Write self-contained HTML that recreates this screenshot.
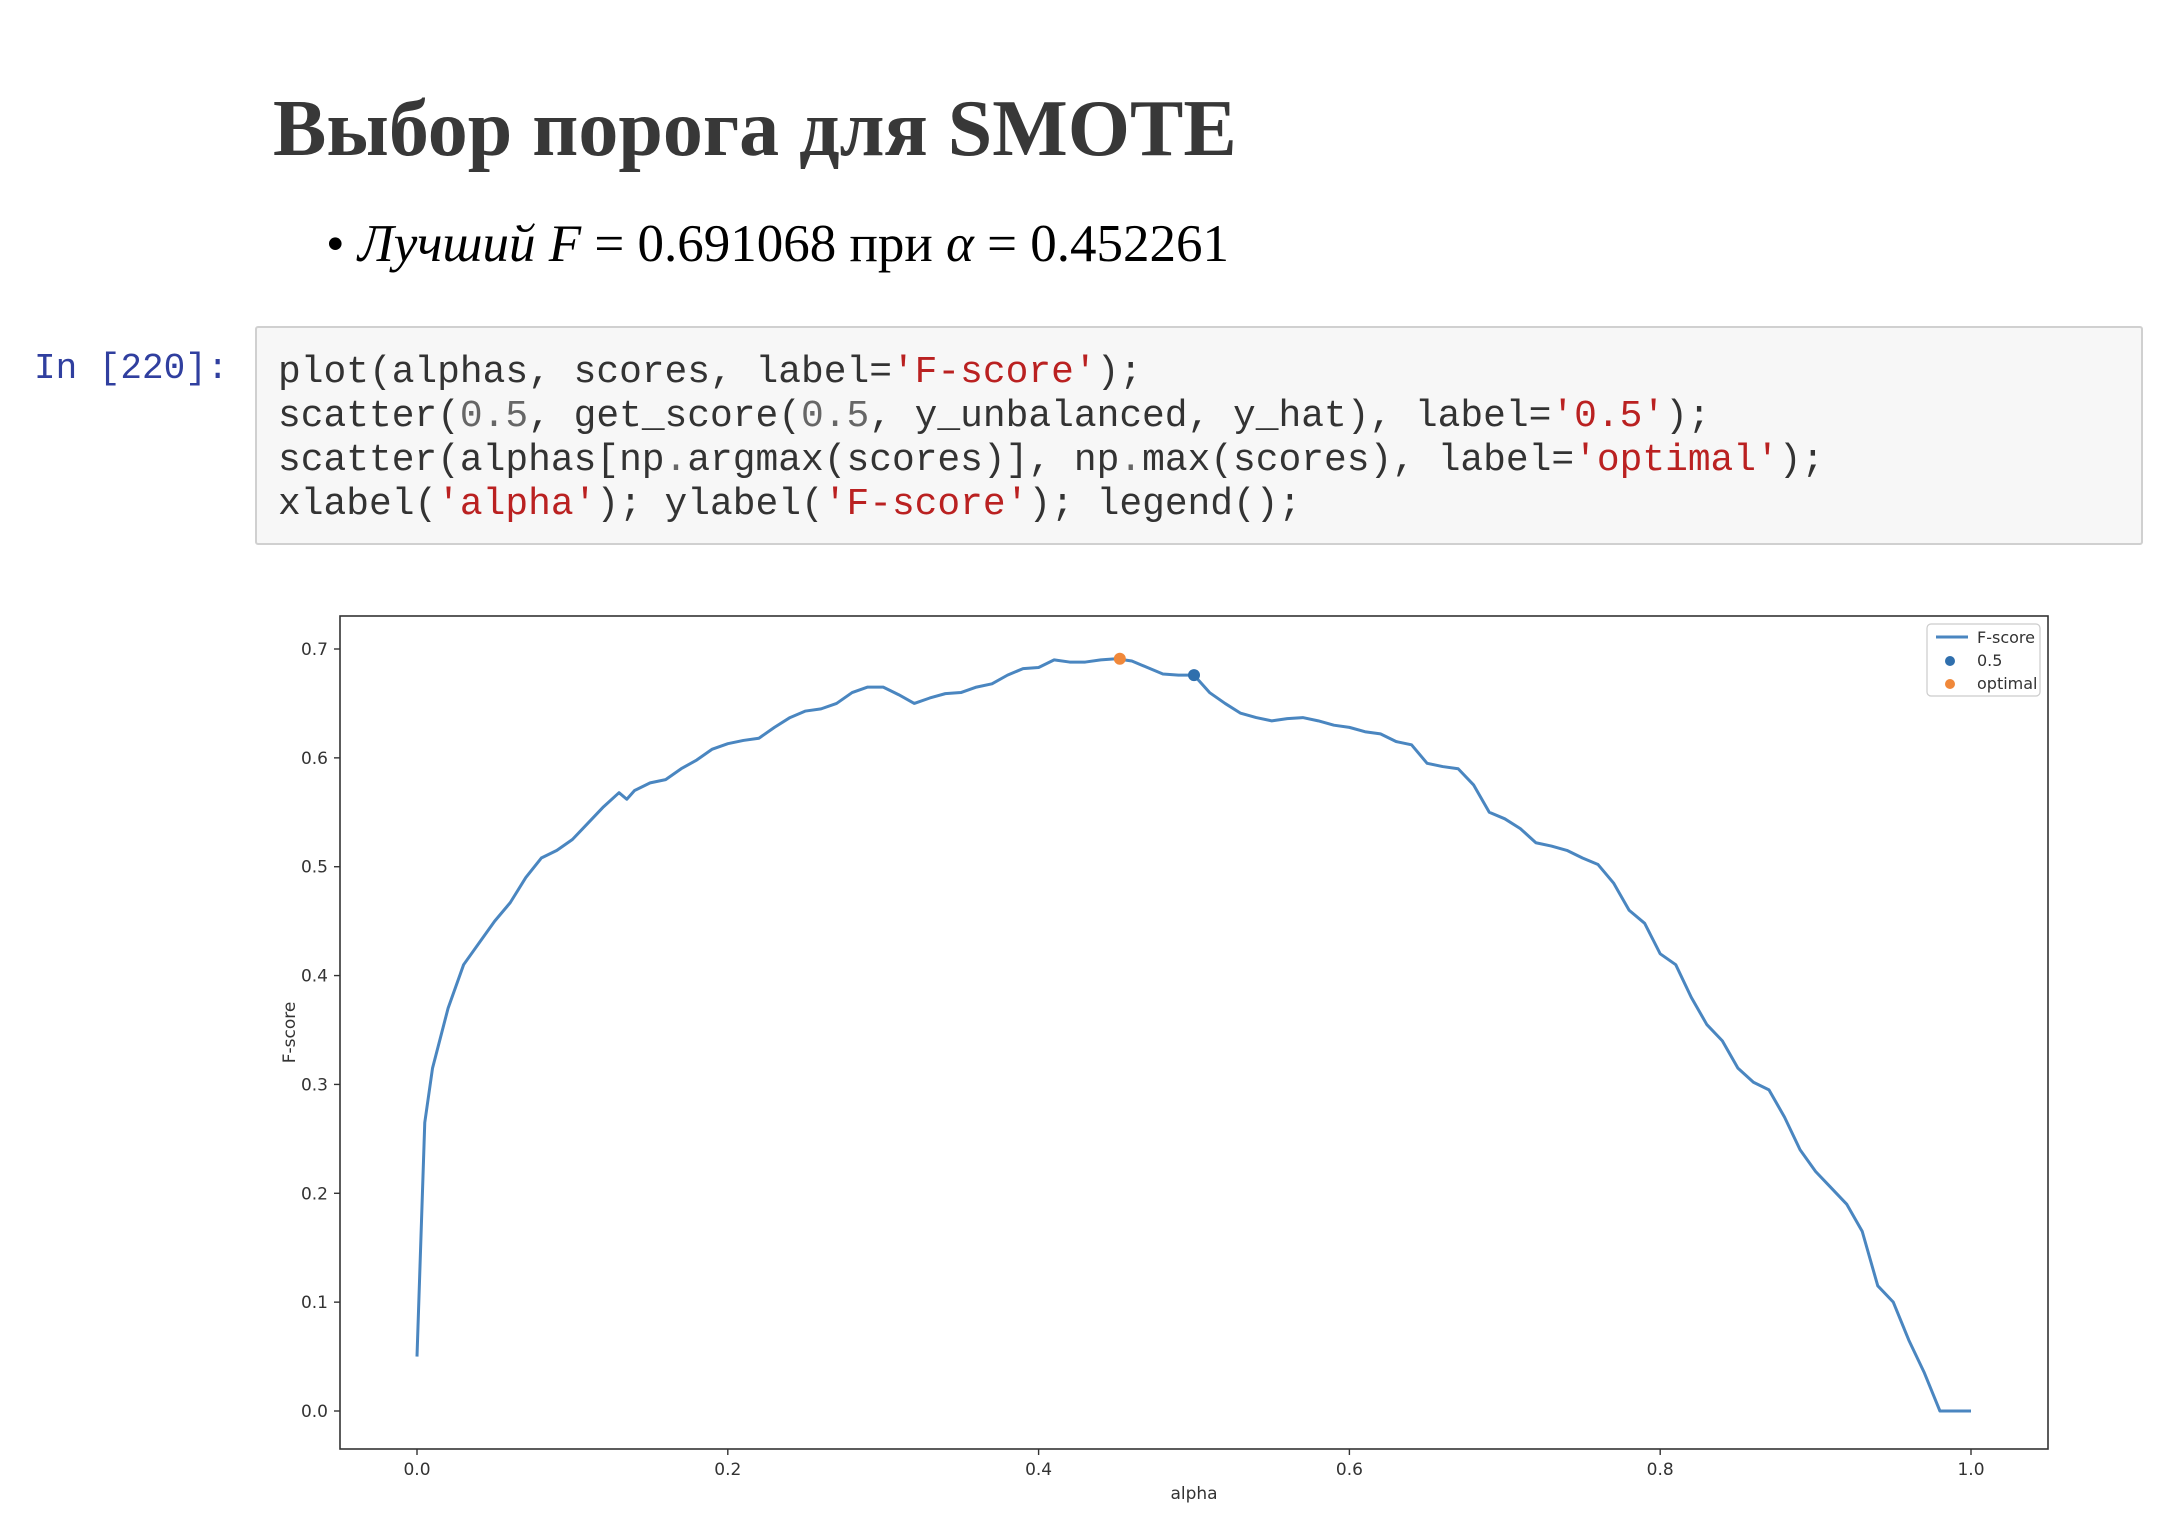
<!DOCTYPE html>
<html><head><meta charset="utf-8">
<style>
body{margin:0;width:2160px;height:1536px;background:#fff;position:relative;overflow:hidden;font-family:"Liberation Sans",sans-serif}
#title{position:absolute;left:273px;top:84px;font:bold 80px "Liberation Serif","Noto Serif CJK SC",serif;color:#383838;margin:0;white-space:nowrap}
#bullet{position:absolute;left:326px;top:214px;font:53px "Liberation Serif","Noto Serif CJK SC",serif;color:#000;white-space:nowrap}
#prompt{position:absolute;left:34px;top:348px;font:36px "Liberation Mono",monospace;color:#303F9F}
#code{position:absolute;left:255px;top:326px;width:1888px;height:219px;background:#f7f7f7;border:2px solid #d0d0d0;border-radius:3px;box-sizing:border-box}
#code pre{margin:0;position:absolute;left:21px;top:23px;font:37.9px/44px "Liberation Mono",monospace;color:#333}
.s{color:#BA2121}.n{color:#666}
</style></head><body>
<h1 id="title">Выбор порога для SMOTE</h1>
<div id="bullet">• <i>Лучший F</i> = 0.691068 при <i>α</i> = 0.452261</div>
<div id="prompt">In [220]:</div>
<div id="code"><pre>plot(alphas, scores, label=<span class="s">'F-score'</span>);
scatter(<span class="n">0.5</span>, get_score(<span class="n">0.5</span>, y_unbalanced, y_hat), label=<span class="s">'0.5'</span>);
scatter(alphas[np<span class="n">.</span>argmax(scores)], np<span class="n">.</span>max(scores), label=<span class="s">'optimal'</span>);
xlabel(<span class="s">'alpha'</span>); ylabel(<span class="s">'F-score'</span>); legend();</pre></div>
<svg id="chart" width="2160" height="1536" style="position:absolute;left:0;top:0"></svg>
<script>
const alphas=[0,0.005,0.01,0.02,0.03,0.04,0.05,0.06,0.07,0.08,0.09,0.10,0.11,0.12,0.13,0.135,0.14,0.15,0.16,0.17,0.18,0.19,0.20,0.21,0.22,0.23,0.24,0.25,0.26,0.27,0.28,0.29,0.30,0.31,0.32,0.33,0.34,0.35,0.36,0.37,0.38,0.39,0.40,0.41,0.42,0.43,0.44,0.45,0.46,0.47,0.48,0.49,0.50,0.51,0.52,0.53,0.54,0.55,0.56,0.57,0.58,0.59,0.60,0.61,0.62,0.63,0.64,0.65,0.66,0.67,0.68,0.69,0.70,0.71,0.72,0.73,0.74,0.75,0.76,0.77,0.78,0.79,0.80,0.81,0.82,0.83,0.84,0.85,0.86,0.87,0.88,0.89,0.90,0.91,0.92,0.93,0.94,0.95,0.96,0.97,0.98,0.99,1.0];
const scores=[0.05,0.265,0.315,0.37,0.41,0.43,0.45,0.467,0.49,0.508,0.515,0.525,0.54,0.555,0.568,0.562,0.57,0.577,0.58,0.59,0.598,0.608,0.613,0.616,0.618,0.628,0.637,0.643,0.645,0.65,0.66,0.665,0.665,0.658,0.65,0.655,0.659,0.66,0.665,0.668,0.676,0.682,0.683,0.69,0.688,0.688,0.69,0.691,0.689,0.683,0.677,0.676,0.676,0.66,0.65,0.641,0.637,0.634,0.636,0.637,0.634,0.63,0.628,0.624,0.622,0.615,0.612,0.595,0.592,0.59,0.575,0.55,0.544,0.535,0.522,0.519,0.515,0.508,0.502,0.485,0.46,0.448,0.42,0.41,0.38,0.355,0.34,0.315,0.302,0.295,0.27,0.24,0.22,0.205,0.19,0.165,0.115,0.1,0.065,0.035,0,0,0];
const pointHalf=[0.5,0.676];
const pointOpt=[0.452261,0.691068];
const xTicks=[0,0.2,0.4,0.6,0.8,1.0];
const xTickLabels=["0.0","0.2","0.4","0.6","0.8","1.0"];
const yTicks=[0,0.1,0.2,0.3,0.4,0.5,0.6,0.7];
const yTickLabels=["0.0","0.1","0.2","0.3","0.4","0.5","0.6","0.7"];
const L=340,R=2048,T=616,B=1449;
const X=v=>417+v*(1971-417);
const Y=v=>1411-v*(1411-649)/0.7;
const svg=document.getElementById('chart');
const NS='http://www.w3.org/2000/svg';
function mk(t,a){const e=document.createElementNS(NS,t);for(const k in a)e.setAttribute(k,a[k]);svg.appendChild(e);return e;}
let fr=mk('rect',{x:L,y:T,width:R-L,height:B-T,fill:'none',stroke:'#333','stroke-width':1.6});


xTicks.forEach((v,i)=>{
 let t=mk('line',{x1:X(v),x2:X(v),y1:B,y2:B+6,stroke:'#333','stroke-width':1.4});
 
 
 let l=mk('text',{x:X(v),y:B+26,'text-anchor':'middle','font-size':17,'font-family':'DejaVu Sans, sans-serif',fill:'#333'});
 l.textContent=xTickLabels[i];
 
 
});
yTicks.forEach((v,i)=>{
 let t=mk('line',{x1:L-6,x2:L,y1:Y(v),y2:Y(v),stroke:'#333','stroke-width':1.4});
 
 
 let l=mk('text',{x:L-12,y:Y(v)+6,'text-anchor':'end','font-size':17,'font-family':'DejaVu Sans, sans-serif',fill:'#333'});
 l.textContent=yTickLabels[i];
 
 
});
let xl=mk('text',{x:(L+R)/2,y:B+50,'text-anchor':'middle','font-size':17,'font-family':'DejaVu Sans, sans-serif',fill:'#333'});
xl.textContent='alpha';


let yl=mk('text',{x:0,y:0,'text-anchor':'middle','font-size':17,'font-family':'DejaVu Sans, sans-serif',fill:'#333',transform:`translate(295,${(T+B)/2}) rotate(-90)`});
yl.textContent='F-score';


let line=mk('polyline',{points:alphas.map((a,i)=>X(a)+','+Y(scores[i])).join(' '),fill:'none',stroke:'#4a86c0','stroke-width':3,'stroke-linejoin':'round'});


let p1=mk('circle',{cx:X(pointHalf[0]),cy:Y(pointHalf[1]),r:6,fill:'#2f6fad'});


let p2=mk('circle',{cx:X(pointOpt[0]),cy:Y(pointOpt[1]),r:6,fill:'#f0883a'});


let lg=mk('rect',{x:1927,y:624,width:113,height:72,rx:4,fill:'#fff',stroke:'#ccc','stroke-width':1.2});


let ll=mk('line',{x1:1936,x2:1968,y1:637,y2:637,stroke:'#4a86c0','stroke-width':3});


let c1=mk('circle',{cx:1950,cy:661,r:5,fill:'#2f6fad'});


let c2=mk('circle',{cx:1950,cy:684,r:5,fill:'#f0883a'});


[['F-score',643],['0.5',666],['optimal',689]].forEach(([t,y])=>{
 let e=mk('text',{x:1977,y:y,'font-size':16,'font-family':'DejaVu Sans, sans-serif',fill:'#333'});
 e.textContent=t;
 
 
});
</script>
</body></html>
